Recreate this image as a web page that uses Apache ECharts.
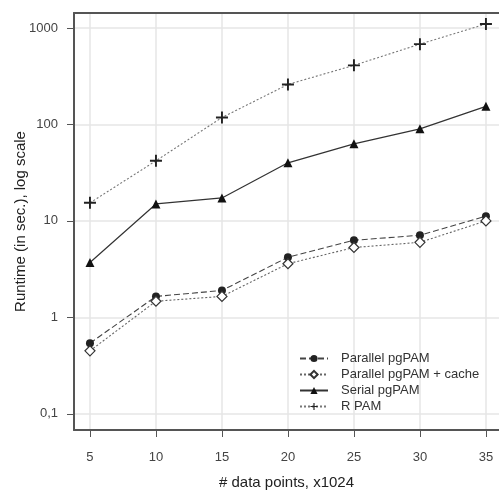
<!DOCTYPE html>
<html>
<head>
<meta charset="utf-8">
<script src="https://cdn.jsdelivr.net/npm/echarts@6/dist/echarts.min.js"></script>
<style>
  html, body { margin: 0; padding: 0; background: #fff; }
  #chart { width: 499px; height: 494px; }
</style>
</head>
<body>
<div id="chart"></div>
<script>
// data points (x1024) and runtimes in seconds
const dataPoints = [5, 10, 15, 20, 25, 30, 35];
const parallelPgPAM = [0.54, 1.65, 1.9, 4.2, 6.3, 7.1, 11.2];
const parallelCache = [0.45, 1.47, 1.65, 3.6, 5.3, 6.0, 10.0];
const serialPgPAM = [3.7, 15, 17.3, 40, 63, 90, 154];
const rPAM = [15.4, 42, 118, 260, 410, 680, 1100];
const yTicks = [0.1, 1, 10, 100, 1000];

const plusPath = 'path://M4.2,0H5.8V4.2H10V5.8H5.8V10H4.2V5.8H0V4.2H4.2Z';

function pairs(vals) {
    return dataPoints.map((x, i) => [x, vals[i]]);
}

function getOption() {
    const font = 'Liberation Sans, Arial, sans-serif';
    const gridColor = '#e6e6e6';
    const axisColor = '#555';

    const option = {
        animation: false,
        textStyle: {fontFamily: font},
        grid: {
            left: 74,
            top: 13,
            right: 0,
            bottom: 64,
            outerBoundsMode: 'none',
        },
        legend: {
            orient: 'vertical',
            left: 294,
            top: 347,
            itemWidth: 28,
            itemHeight: 9,
            itemGap: 3,
            textStyle: {fontSize: 13, color: '#333', padding: [0, 0, 0, 8]},
            data: ['Parallel pgPAM', 'Parallel pgPAM + cache', 'Serial pgPAM', 'R PAM'],
        },
        xAxis: [
            {
                type: 'value',
                min: 3.79,
                max: 35.99,
                name: '# data points, x1024',
                nameLocation: 'middle',
                nameGap: 45,
                nameMoveOverlap: false,
                nameTextStyle: {fontSize: 15, color: '#222'},
                axisLine: {lineStyle: {color: axisColor, width: 2}},
                axisTick: {show: true, length: 7, customValues: dataPoints, lineStyle: {color: axisColor}},
                axisLabel: {customValues: dataPoints, fontSize: 13, color: '#444', margin: 21},
                splitLine: {show: true, lineStyle: {color: gridColor, width: 1.5}},
            },
            {
                type: 'value',
                position: 'top',
                min: 3.79,
                max: 35.99,
                axisLine: {show: true, lineStyle: {color: axisColor, width: 2}},
                axisTick: {show: false},
                axisLabel: {show: false},
                splitLine: {show: false},
            },
        ],
        yAxis: {
            type: 'log',
            logBase: 10,
            min: 0.068,
            max: 1430,
            name: 'Runtime (in sec.), log scale',
            nameLocation: 'middle',
            nameGap: 46,
            nameMoveOverlap: false,
            nameTextStyle: {fontSize: 15, color: '#222'},
            axisLine: {show: true, lineStyle: {color: axisColor, width: 2}},
            axisTick: {show: true, length: 7, customValues: yTicks, lineStyle: {color: axisColor}},
            axisLabel: {
                customValues: yTicks,
                fontSize: 13,
                color: '#444',
                margin: 16,
                formatter: (v) => String(v).replace('.', ','),
            },
            splitLine: {show: true, lineStyle: {color: gridColor, width: 1.5}},
        },
        series: [
            {
                name: 'Parallel pgPAM',
                type: 'line',
                data: pairs(parallelPgPAM),
                symbol: 'circle',
                symbolSize: 8,
                lineStyle: {color: '#444', width: 1.1, type: [6, 3]},
                itemStyle: {color: '#222'},
            },
            {
                name: 'Parallel pgPAM + cache',
                type: 'line',
                data: pairs(parallelCache),
                symbol: 'diamond',
                symbolSize: 10,
                lineStyle: {color: '#666', width: 1.1, type: [2, 2]},
                itemStyle: {color: '#fff', borderColor: '#333', borderWidth: 1.2},
            },
            {
                name: 'Serial pgPAM',
                type: 'line',
                data: pairs(serialPgPAM),
                symbol: 'triangle',
                symbolSize: 9,
                lineStyle: {color: '#333', width: 1.2},
                itemStyle: {color: '#111'},
            },
            {
                name: 'R PAM',
                type: 'line',
                data: pairs(rPAM),
                symbol: plusPath,
                symbolSize: 12,
                lineStyle: {color: '#777', width: 1.1, type: [2, 2]},
                itemStyle: {color: '#222'},
            },
        ],
    };

    return option;
}

const chart = echarts.init(document.getElementById('chart'));
chart.setOption(getOption());
</script>
</body>
</html>
